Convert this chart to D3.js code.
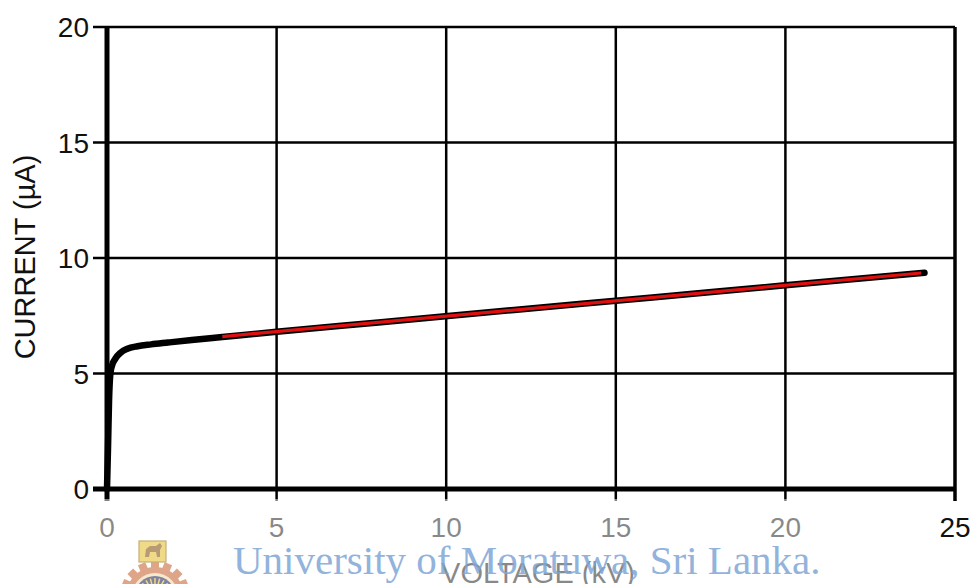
<!DOCTYPE html>
<html>
<head>
<meta charset="utf-8">
<script src="https://cdn.jsdelivr.net/npm/d3@7"></script>
<style>
  html, body { margin: 0; padding: 0; background: #fff; }
  svg { display: block; }
</style>
</head>
<body>
<svg id="chart" width="974" height="584"></svg>
<script>
// Measured current–voltage characteristic (kV, µA)
const voltage = [0, 0.03, 0.06, 0.1, 0.15, 0.25, 0.4, 0.6, 0.9, 1.3, 1.8, 2.5, 3.4, 5, 8, 12, 16, 20, 24.1];
const current = [0, 1.8, 3.8, 5.0, 5.35, 5.65, 5.9, 6.07, 6.18, 6.26, 6.34, 6.45, 6.58, 6.81, 7.21, 7.75, 8.28, 8.82, 9.36];

// Linear fit over the saturation region
const fitVoltage = [3.4, 24.0];
const fitCurrent = [6.6, 9.35];

const xTicks = [0, 5, 10, 15, 20, 25];
const yTicks = [0, 5, 10, 15, 20];
const xTitle = "VOLTAGE (kV)";
const yTitle = "CURRENT (\u00b5A)";
const watermark = "University of Moratuwa, Sri Lanka.";

const svg = d3.select("#chart");
const x = d3.scaleLinear().domain([0, 25]).range([107, 955]);
const y = d3.scaleLinear().domain([0, 20]).range([489, 27]);

const sans = "'Liberation Sans', Arial, sans-serif";

// Grid
const grid = svg.append("g");
grid.selectAll("line.h").data(yTicks.filter(d => d > 0)).join("line")
  .attr("x1", x(0) - 14).attr("x2", x(25))
  .attr("y1", d => y(d)).attr("y2", d => y(d))
  .attr("stroke", "#000").attr("stroke-width", 2.5);
grid.selectAll("line.v").data(xTicks.filter(d => d > 0)).join("line")
  .attr("x1", d => x(d)).attr("x2", d => x(d))
  .attr("y1", y(20)).attr("y2", y(0) + 12)
  .attr("stroke", "#000").attr("stroke-width", d => d === 25 ? 3.5 : 2.5);

// Axes lines
svg.append("line").attr("x1", x(0)).attr("x2", x(0)).attr("y1", y(20) - 1).attr("y2", y(0) + 12)
  .attr("stroke", "#000").attr("stroke-width", 5);
svg.append("line").attr("x1", x(0) - 14).attr("x2", x(25) + 1).attr("y1", y(0)).attr("y2", y(0))
  .attr("stroke", "#000").attr("stroke-width", 5);

// Y tick labels
svg.append("g").selectAll("text").data(yTicks).join("text")
  .attr("x", 89).attr("y", d => y(d)).attr("dy", "0.36em")
  .attr("text-anchor", "end")
  .attr("font-family", sans).attr("font-size", 28).attr("fill", "#111")
  .text(d => d);

// X tick labels
svg.append("g").selectAll("text").data(xTicks).join("text")
  .attr("x", d => x(d)).attr("y", 537)
  .attr("text-anchor", "middle")
  .attr("font-family", sans).attr("font-size", 28).attr("fill", "#111")
  .text(d => d);

// Axis titles
svg.append("text")
  .attr("transform", "translate(35,257) rotate(-90)")
  .attr("text-anchor", "middle")
  .attr("font-family", sans).attr("font-size", 29).attr("fill", "#111")
  .text(yTitle);
svg.append("text")
  .attr("x", 538).attr("y", 583)
  .attr("text-anchor", "middle")
  .attr("font-family", sans).attr("font-size", 29).attr("fill", "#111")
  .text(xTitle);

// Curves
const line = d3.line().x(d => x(d[0])).y(d => y(d[1])).curve(d3.curveMonotoneX);
svg.append("path")
  .datum(voltage.map((v, i) => [v, current[i]]))
  .attr("d", line)
  .attr("fill", "none").attr("stroke", "#000").attr("stroke-width", 6.5)
  .attr("stroke-linecap", "round").attr("stroke-linejoin", "round");
svg.append("path")
  .datum(fitVoltage.map((v, i) => [v, fitCurrent[i]]))
  .attr("d", d3.line().x(d => x(d[0])).y(d => y(d[1])))
  .attr("fill", "none").attr("stroke", "#e01010").attr("stroke-width", 3.2);

// Faded footer band
svg.append("rect").attr("x", 0).attr("y", 499).attr("width", 935).attr("height", 85)
  .attr("fill", "#fff").attr("opacity", 0.5);

// Emblem
const emb = svg.append("g").attr("opacity", 0.6);
const cx = 155, cy = 596;
const teeth = d3.range(16).map(i => i * 2 * Math.PI / 16);
emb.append("circle").attr("cx", cx).attr("cy", cy).attr("r", 29).attr("fill", "#c96a3a");
emb.selectAll("rect.t").data(teeth).join("rect")
  .attr("x", cx - 4).attr("y", cy - 35).attr("width", 8).attr("height", 8)
  .attr("fill", "#c96a3a")
  .attr("transform", d => `rotate(${d * 180 / Math.PI},${cx},${cy})`);
emb.append("circle").attr("cx", cx).attr("cy", cy).attr("r", 23).attr("fill", "#f0d9b0");
emb.append("circle").attr("cx", cx).attr("cy", cy).attr("r", 20).attr("fill", "#2b3160");
emb.selectAll("line.r").data(d3.range(24).map(i => i * 2 * Math.PI / 24)).join("line")
  .attr("x1", cx).attr("y1", cy)
  .attr("x2", d => cx + 18 * Math.cos(d)).attr("y2", d => cy + 18 * Math.sin(d))
  .attr("stroke", "#e8c030").attr("stroke-width", 1.5);
emb.append("rect").attr("x", 139).attr("y", 541).attr("width", 27).attr("height", 21).attr("fill", "#e6c23a");
emb.append("rect").attr("x", 139).attr("y", 541).attr("width", 27).attr("height", 21)
  .attr("fill", "none").attr("stroke", "#a07a20").attr("stroke-width", 1.2);
emb.append("path")
  .attr("d", "M145,557 L146,549 L150,546 L156,546 L160,543 L162,546 L160,550 L160,557 L157,557 L156,552 L150,552 L149,557 Z")
  .attr("fill", "#8a5a18");

// Watermark text
svg.append("text")
  .attr("x", 233).attr("y", 574)
  .attr("font-family", "'Liberation Serif', 'Times New Roman', serif")
  .attr("font-size", 41).attr("fill", "#7ea6d6").attr("opacity", 0.85)
  .text(watermark);
</script>
</body>
</html>
